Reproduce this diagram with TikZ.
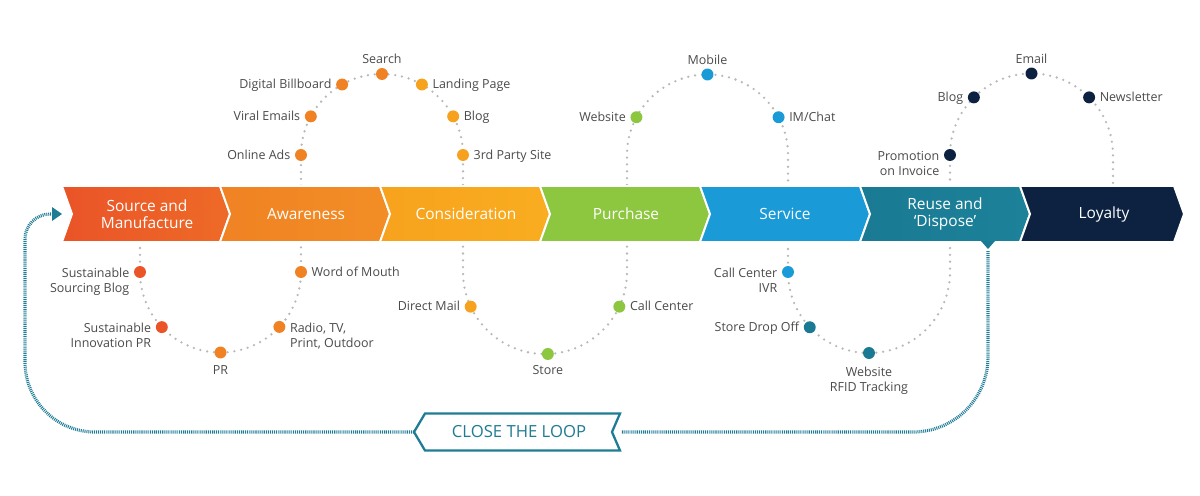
\documentclass[tikz,border=0pt]{standalone}
\usepackage{fontspec}
\setmainfont{Open Sans}
\usetikzlibrary{calc}
\definecolor{cSrc}{HTML}{EA5428}
\definecolor{cSrcR}{HTML}{EE6A27}
\definecolor{cAwa}{HTML}{F08223}
\definecolor{cAwaR}{HTML}{F28E25}
\definecolor{cCon}{HTML}{F7A21E}
\definecolor{cConR}{HTML}{F9AD1F}
\definecolor{cPur}{HTML}{8DC63F}
\definecolor{cSer}{HTML}{1A9BD7}
\definecolor{cReu}{HTML}{1A7A93}
\definecolor{cReuR}{HTML}{1C8299}
\definecolor{cLoy}{HTML}{0D2240}
\definecolor{cGray}{HTML}{B8B8B8}
\definecolor{cText}{HTML}{4A4A4A}
\definecolor{cLoop}{HTML}{1E7C94}
\begin{document}
\begin{tikzpicture}[x=0.02cm,y=-0.02cm,
  dotline/.style={cGray, line width=1.45pt, dash pattern=on 0pt off 3.9pt, line cap=round},
  dot/.style={circle, inner sep=0pt, minimum size=6.8pt},
  lbl/.style={text=cText, font=\fontsize{7.1}{8.5}\selectfont, inner sep=0pt},
  stagetxt/.style={text=white, font=\fontsize{8.8}{10}\selectfont, align=center, inner sep=0pt},
  loopline/.style={cLoop, line width=1.8pt, dash pattern=on 0.55pt off 0.55pt},
  chev/.style={draw=white, line width=1.1pt}]
\useasboundingbox (0,0) rectangle (1200,495);

% dotted serpentine behind the banner
\draw[dotline] (140,248) -- (140,272)
  arc[start angle=180,end angle=0,radius=80.5] -- (301,155)
  arc[start angle=180,end angle=360,radius=81] -- (463,272)
  arc[start angle=180,end angle=0,radius=82] -- (627,155)
  arc[start angle=180,end angle=360,radius=80.5] -- (788,272)
  arc[start angle=180,end angle=0,radius=81] -- (950,155)
  arc[start angle=180,end angle=360,radius=81.5] -- (1113,184);

% banner chevrons
\shade[chev, left color=cSrc, right color=cSrcR] (62,186) -- (220,186) -- (230,214) -- (220,242) -- (62,242) -- (72,214) -- cycle;
\shade[chev, left color=cAwa, right color=cAwaR] (220,186) -- (380,186) -- (390,214) -- (380,242) -- (220,242) -- (230,214) -- cycle;
\shade[chev, left color=cCon, right color=cConR] (380,186) -- (540,186) -- (550,214) -- (540,242) -- (380,242) -- (390,214) -- cycle;
\filldraw[chev, fill=cPur] (540,186) -- (700,186) -- (710,214) -- (700,242) -- (540,242) -- (550,214) -- cycle;
\filldraw[chev, fill=cSer] (700,186) -- (860,186) -- (870,214) -- (860,242) -- (700,242) -- (710,214) -- cycle;
\shade[chev, left color=cReu, right color=cReuR] (860,186) -- (1020,186) -- (1030,214) -- (1020,242) -- (860,242) -- (870,214) -- cycle;
\filldraw[chev, fill=cLoy] (1020,186) -- (1174,186) -- (1184,214) -- (1174,242) -- (1020,242) -- (1030,214) -- cycle;
\fill[cReu] (981,241) -- (995,241) -- (988,249) -- cycle;

\node[stagetxt] (sSrc) at (147,214) {Source and\\Manufacture};
\node[stagetxt] (sAwa) at (306,214) {Awareness};
\node[stagetxt] (sCon) at (466,214) {Consideration};
\node[stagetxt] (sPur) at (626,214) {Purchase};
\node[stagetxt] (sSer) at (785,214) {Service};
\node[stagetxt] (sReu) at (945,214) {Reuse and\\‘Dispose’};
\node[stagetxt] (sLoy) at (1104,214) {Loyalty};

% loop 1 (bottom)
\node[dot, fill=cSrc] (d1a) at ($(220.5,272)+(180:80.5)$) {};
\node[dot, fill=cSrc] (d1b) at ($(220.5,272)+(136.8:80.5)$) {};
\node[dot, fill=cAwa] (d1c) at ($(220.5,272)+(90:80.5)$) {};
\node[dot, fill=cAwa] (d1d) at ($(220.5,272)+(43:80.5)$) {};
\node[dot, fill=cAwa] (d1e) at ($(220.5,272)+(0:80.5)$) {};
\node[lbl, anchor=north east, align=right] (t1a) at ($(d1a.west)+(-4,-4)$) {Sustainable\\Sourcing Blog};
\node[lbl, anchor=north east, align=right] (t1b) at ($(d1b.west)+(-4,-4)$) {Sustainable\\Innovation PR};
\node[lbl, anchor=north] (t1c) at ($(d1c.south)+(0,6)$) {PR};
\node[lbl, anchor=north west, align=left] (t1d) at ($(d1d.east)+(4,-4)$) {Radio, TV,\\Print, Outdoor};
\node[lbl, anchor=base west] (t1e) at ($(d1e.east)+(4,4)$) {Word of Mouth};

% loop 2 (top)
\node[dot, fill=cAwa] (d2a) at ($(382,155)+(180:81)$) {};
\node[dot, fill=cAwa] (d2b) at ($(382,155)+(208.5:81)$) {};
\node[dot, fill=cAwa] (d2c) at ($(382,155)+(240.5:81)$) {};
\node[dot, fill=cAwa] (d2d) at ($(382,155)+(270:81)$) {};
\node[dot, fill=cCon] (d2e) at ($(382,155)+(299.5:81)$) {};
\node[dot, fill=cCon] (d2f) at ($(382,155)+(331.5:81)$) {};
\node[dot, fill=cCon] (d2g) at ($(382,155)+(360:81)$) {};
\node[lbl, anchor=base east] (t2a) at ($(d2a.west)+(-4,4)$) {Online Ads};
\node[lbl, anchor=base east] (t2b) at ($(d2b.west)+(-4,4)$) {Viral Emails};
\node[lbl, anchor=base east] (t2c) at ($(d2c.west)+(-4,4)$) {Digital Billboard};
\node[lbl, anchor=base] (t2d) at ($(d2d.north)+(0,-4)$) {Search};
\node[lbl, anchor=base west] (t2e) at ($(d2e.east)+(4,4)$) {Landing Page};
\node[lbl, anchor=base west] (t2f) at ($(d2f.east)+(4,4)$) {Blog};
\node[lbl, anchor=base west] (t2g) at ($(d2g.east)+(4,4)$) {3rd Party Site};

% loop 3 (bottom)
\node[dot, fill=cCon] (d3a) at ($(545,272)+(155:82)$) {};
\node[dot, fill=cPur] (d3b) at ($(545,272)+(88:82)$) {};
\node[dot, fill=cPur] (d3c) at ($(545,272)+(25:82)$) {};
\node[lbl, anchor=base east] (t3a) at ($(d3a.west)+(-4,4)$) {Direct Mail};
\node[lbl, anchor=north] (t3b) at ($(d3b.south)+(0,5)$) {Store};
\node[lbl, anchor=base west] (t3c) at ($(d3c.east)+(4,4)$) {Call Center};

% loop 4 (top)
\node[dot, fill=cPur] (d4a) at ($(707.5,155)+(208:80.5)$) {};
\node[dot, fill=cSer] (d4b) at ($(707.5,155)+(270:80.5)$) {};
\node[dot, fill=cSer] (d4c) at ($(707.5,155)+(332:80.5)$) {};
\node[lbl, anchor=base east] (t4a) at ($(d4a.west)+(-4,4)$) {Website};
\node[lbl, anchor=base] (t4b) at ($(d4b.north)+(0,-4)$) {Mobile};
\node[lbl, anchor=base west] (t4c) at ($(d4c.east)+(4,4)$) {IM/Chat};

% loop 5 (bottom)
\node[dot, fill=cSer] (d5a) at ($(869,272)+(180:81)$) {};
\node[dot, fill=cReu] (d5b) at ($(869,272)+(137:81)$) {};
\node[dot, fill=cReu] (d5c) at ($(869,272)+(90:81)$) {};
\node[lbl, anchor=north east, align=right] (t5a) at ($(d5a.west)+(-4,-4)$) {Call Center\\IVR};
\node[lbl, anchor=base east] (t5b) at ($(d5b.west)+(-4,4)$) {Store Drop Off};
\node[lbl, anchor=north, align=center] (t5c) at ($(d5c.south)+(0,7.5)$) {Website\\RFID Tracking};

% loop 6 (top)
\node[dot, fill=cLoy] (d6a) at ($(1031.5,155)+(180:81.5)$) {};
\node[dot, fill=cLoy] (d6b) at ($(1031.5,155)+(225:81.5)$) {};
\node[dot, fill=cLoy] (d6c) at ($(1031.5,155)+(270:81.5)$) {};
\node[dot, fill=cLoy] (d6d) at ($(1031.5,155)+(315:81.5)$) {};
\node[lbl, anchor=north east, align=right] (t6a) at ($(d6a.west)+(-4,-4)$) {Promotion\\on Invoice};
\node[lbl, anchor=base east] (t6b) at ($(d6b.west)+(-4,4)$) {Blog};
\node[lbl, anchor=base] (t6c) at ($(d6c.north)+(0,-4)$) {Email};
\node[lbl, anchor=base west] (t6d) at ($(d6d.east)+(4,4)$) {Newsletter};

% close the loop
\coordinate (bL) at (414,432);
\coordinate (bR) at (612,432);
\draw[cLoop, line width=1.3pt, fill=white, line join=miter]
  (425,413.5) -- (620,413.5) -- (bR) -- (620,450.5) -- (425,450.5) -- (bL) -- cycle;
\node[text=cLoop, font=\fontsize{9.5}{11}\selectfont, inner sep=0pt] (badge) at (519,432) {CLOSE THE LOOP};
\coordinate (loopStart) at (988,251);
\coordinate (arrowTip) at (62,214);
\draw[loopline] (loopStart) -- (988,357) arc[start angle=0,end angle=90,radius=75] -- (621,432);
\draw[loopline] (bL) -- (95,432) arc[start angle=90,end angle=180,radius=70] -- (25,239)
  arc[start angle=180,end angle=270,radius=25] -- (52,214);
\fill[cLoop] (52,207) -- (arrowTip) -- (52,221) -- cycle;
\end{tikzpicture}
\end{document}
